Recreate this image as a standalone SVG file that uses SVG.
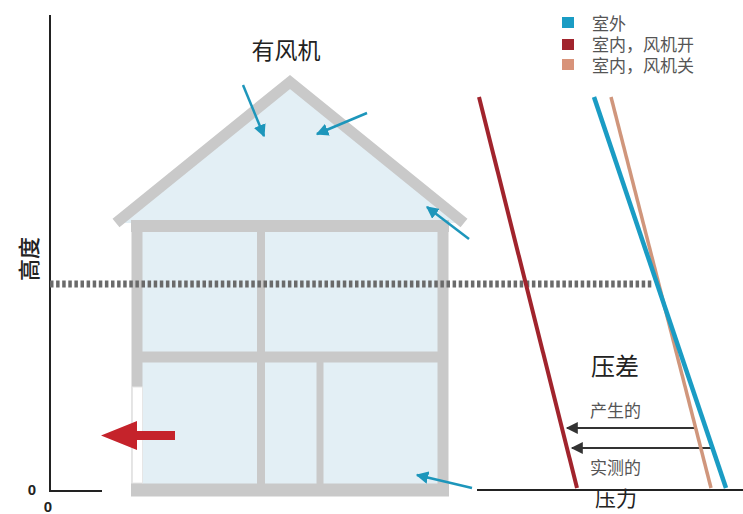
<svg xmlns="http://www.w3.org/2000/svg" width="743" height="514" viewBox="0 0 743 514">
  <style>
    .axis { stroke: #222; stroke-width: 2; fill: none; }
    .wall { stroke: #c9c9c9; fill: none; stroke-linecap: butt; }
    .room { fill: #e3eff5; }
    .air { stroke: #1d96bb; stroke-width: 2.5; fill: none; marker-end: url(#airHead); }
    .delta { stroke: #333; stroke-width: 2; fill: none; marker-end: url(#deltaHead); }
    .sans { font-family: "Noto Sans CJK SC", "Liberation Sans", sans-serif; fill: #222; }
    .note { font-family: "Liberation Serif", "Noto Sans CJK SC", serif; fill: #555; font-size: 17px; }
    .zero { font-family: "Liberation Sans", "DejaVu Sans", sans-serif; font-weight: bold; font-size: 15px; fill: #222; }
  </style>
  <defs>
    <marker id="airHead" viewBox="0 0 10 10" refX="9" refY="5" markerWidth="5" markerHeight="5" orient="auto" markerUnits="strokeWidth">
      <path d="M0,0 L10,5 L0,10 z" fill="#1d96bb"/>
    </marker>
    <marker id="deltaHead" viewBox="0 0 10 10" refX="9" refY="5" markerWidth="6.5" markerHeight="6" orient="auto" markerUnits="strokeWidth">
      <path d="M0,0 L10,5 L0,10 z" fill="#333"/>
    </marker>
  </defs>

  <rect width="743" height="514" fill="#ffffff"/>

  <!-- height axis and origin -->
  <g id="axes">
    <path class="axis" d="M50,15 V491 H102"/>
    <path d="M477,490 H743" stroke="#222" stroke-width="2"/>
    <text class="zero" x="32" y="495" text-anchor="middle">0</text>
    <text class="zero" x="48" y="512" text-anchor="middle">0</text>
    <text class="sans" font-size="22" font-weight="500" transform="translate(37,259) rotate(-90)" text-anchor="middle">高度</text>
  </g>

  <!-- house section -->
  <g id="house">
    <polygon class="room" points="116,223 290,82 464,223"/>
    <rect class="room" x="137" y="226" width="306" height="264"/>
    <polyline class="wall" stroke-width="11" points="116,223 290,82 464,223" stroke-linejoin="miter"/>
    <path class="wall" stroke-width="12" d="M131,226 H449"/>
    <path class="wall" stroke-width="11" d="M137,226 V496"/>
    <path class="wall" stroke-width="11" d="M443,226 V496"/>
    <path class="wall" stroke-width="13" d="M131,490 H449"/>
    <path class="wall" stroke-width="11" d="M137,357 H443"/>
    <path class="wall" stroke-width="8" d="M261,226 V490"/>
    <path class="wall" stroke-width="7" d="M320,357 V490"/>
    <rect x="132.5" y="387" width="10" height="96" fill="#ffffff" stroke="#e6e6e6" stroke-width="1"/>
    <text class="sans" x="286" y="59" font-size="23" text-anchor="middle">有风机</text>
  </g>

  <!-- neutral pressure plane, drawn across the house -->
  <g id="neutral-plane">
    <path d="M50,284 H653" stroke="#6a6a6a" stroke-width="7" stroke-dasharray="3.5 2.6"/>
  </g>

  <!-- air flows -->
  <g id="connectors">
    <path class="air" d="M243,85 L264,136"/>
    <path class="air" d="M367,113 L317,134"/>
    <path class="air" d="M469,239 L427,207"/>
    <path class="air" d="M472,488 L417,475"/>
    <polygon points="175,431 175,440 137,440 137,450 101,435.5 137,421 137,431" fill="#c5232b"/>
    <path class="delta" d="M694,428 H567"/>
    <path class="delta" d="M712,448 H572"/>
  </g>

  <!-- pressure profiles -->
  <g id="pressure-lines" fill="none">
    <path d="M479,97 L577,488" stroke="#a1242d" stroke-width="4"/>
    <path d="M611,97 L711,488" stroke="#d0967c" stroke-width="3.5"/>
    <path d="M594,97 L726,488" stroke="#1a9cc4" stroke-width="4.5"/>
  </g>

  <g id="pressure-labels">
    <text class="sans" x="615" y="375" font-size="24" text-anchor="middle">压差</text>
    <text class="note" x="590" y="417">产生的</text>
    <text class="note" x="590" y="474">实测的</text>
    <text class="sans" x="616" y="506" font-size="21" text-anchor="middle">压力</text>
  </g>

  <!-- legend -->
  <g id="legend">
    <rect x="562" y="17" width="12" height="11" fill="#1a9cc4"/>
    <rect x="562" y="39" width="12" height="11" fill="#a1242d"/>
    <rect x="562" y="59" width="12" height="11" fill="#d8937a"/>
    <text class="note" x="592" y="30">室外</text>
    <text class="note" x="592" y="51">室内，风机开</text>
    <text class="note" x="592" y="72">室内，风机关</text>
  </g>
</svg>
